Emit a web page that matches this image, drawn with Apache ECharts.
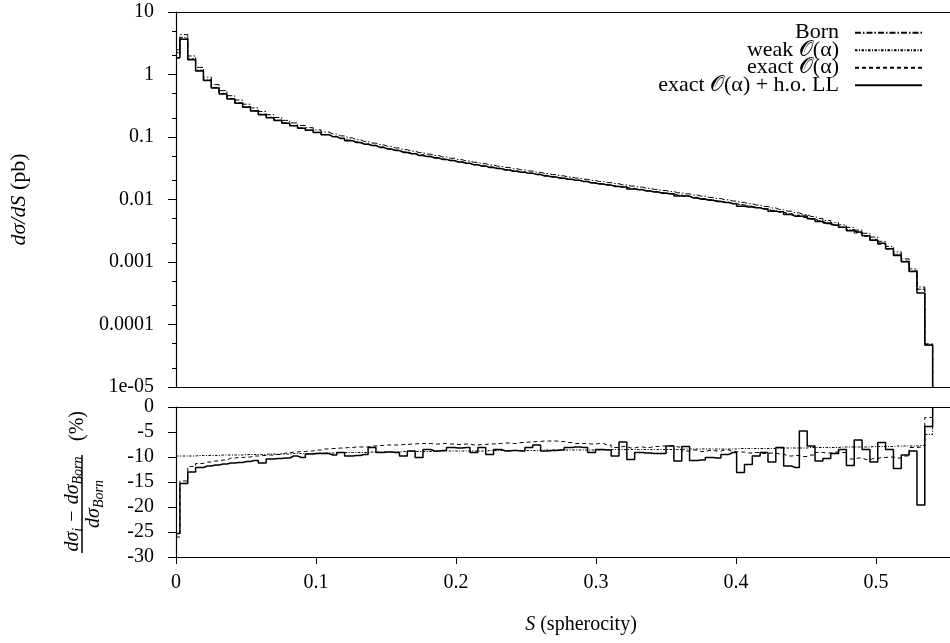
<!DOCTYPE html>
<html>
<head>
<meta charset="utf-8">
<script src="https://cdn.jsdelivr.net/npm/echarts@6/dist/echarts.min.js"></script>
<style>html,body{margin:0;padding:0;background:#fff}#c{width:950px;height:643px}</style>
</head>
<body>
<div id="c"></div>
<script>
// ---------------- data ----------------
const binWidth = 0.0056;          // width of a spherocity bin
const histEnd = 0.5404;           // upper edge of the last bin
const xTickValues = [0, 0.1, 0.2, 0.3, 0.4, 0.5];
const xTickLabels = ['0', '0.1', '0.2', '0.3', '0.4', '0.5'];
const yTopTickExponents = [-5, -4, -3, -2, -1, 0, 1];
const yTopTickLabels = ['1e-05', '0.0001', '0.001', '0.01', '0.1', '1', '10'];
const yTopMinorFactors = [2, 5];
const yBottomTickLabels = ['-30', '-25', '-20', '-15', '-10', '-5', '0'];
const seriesNames = ['Born', 'weak 𝒪(α)', 'exact 𝒪(α)', 'exact 𝒪(α) + h.o. LL'];

// Born dσ/dS (pb), one value per bin
const bornXsec = [
  2.48, 4.34, 1.98, 1.30, 0.908, 0.689, 0.552, 0.458, 0.390, 0.335,
  0.292, 0.256, 0.2275, 0.205, 0.1845, 0.168, 0.153, 0.141, 0.130, 0.120,
  0.112, 0.1042, 0.0970, 0.0906, 0.0849, 0.0798, 0.0750, 0.0706, 0.0667, 0.0628,
  0.0594, 0.0562, 0.0533, 0.0506, 0.0480, 0.0456, 0.0434, 0.0413, 0.0394, 0.0375,
  0.0358, 0.0341, 0.0326, 0.0311, 0.0298, 0.0285, 0.0273, 0.0261, 0.0250, 0.0239,
  0.0229, 0.0220, 0.0211, 0.0202, 0.0194, 0.0186, 0.0179, 0.0171, 0.0164, 0.0158,
  0.0151, 0.0145, 0.0139, 0.0134, 0.0128, 0.0123, 0.0118, 0.0113, 0.0108, 0.01035,
  0.00989, 0.00944, 0.00899, 0.00857, 0.00815, 0.00773, 0.00731, 0.00690, 0.00650, 0.00611,
  0.00573, 0.00535, 0.00498, 0.00461, 0.00427, 0.00392, 0.00358, 0.00324, 0.00288, 0.00251,
  0.00214, 0.00178, 0.00145, 0.00112, 0.000776, 0.000398, 0.000049
];
// relative deviations from Born (%)
const ratioWeak = [
  -9.8, -9.8, -9.8, -9.7, -9.7, -9.7, -9.6, -9.6, -9.6, -9.5,
  -9.5, -9.5, -9.4, -9.4, -9.4, -9.3, -9.3, -9.3, -9.2, -9.2,
  -9.2, -9.1, -9.1, -9.1, -9.1, -9.0, -9.0, -9.0, -9.0, -8.9,
  -8.9, -8.9, -8.9, -8.9, -8.8, -8.8, -8.8, -8.8, -8.8, -8.8,
  -8.7, -8.7, -8.7, -8.7, -8.7, -8.7, -8.7, -8.6, -8.6, -8.6,
  -8.6, -8.6, -8.6, -8.6, -8.6, -8.5, -8.5, -8.5, -8.5, -8.5,
  -8.5, -8.5, -8.5, -8.5, -8.5, -8.4, -8.4, -8.4, -8.4, -8.4,
  -8.4, -8.4, -8.3, -8.3, -8.3, -8.3, -8.3, -8.2, -8.2, -8.2,
  -8.2, -8.1, -8.1, -8.1, -8.1, -8.0, -8.0, -8.0, -8.0, -7.9,
  -7.9, -7.9, -7.8, -7.8, -7.8, -7.7, -5.5
];
const ratioExact = [
  -26.0, -14.8, -11.9, -11.3, -11.0, -10.8, -10.6, -10.2, -10.1, -10.0,
  -9.8, -9.7, -9.6, -9.5, -9.2, -9.0, -8.9, -8.8, -8.6, -8.4,
  -8.3, -8.2, -8.1, -8.0, -8.0, -7.8, -7.7, -7.6, -7.6, -7.5,
  -7.4, -7.3, -7.3, -7.4, -7.3, -7.4, -7.5, -7.4, -7.6, -7.5,
  -7.4, -7.3, -7.2, -7.3, -7.1, -7.0, -6.9, -6.8, -6.8, -6.9,
  -7.1, -7.3, -7.3, -7.4, -7.3, -7.6, -8.1, -7.9, -8.2, -8.0,
  -8.1, -7.9, -7.8, -7.7, -8.0, -8.8, -8.6, -8.9, -8.7, -8.8,
  -8.6, -8.9, -9.0, -9.2, -9.1, -9.3, -9.2, -9.4, -9.8, -9.7,
  -9.9, -9.6, -9.1, -9.2, -9.0, -9.1, -10.4, -10.2, -10.5, -10.3,
  -10.1, -10.0, -10.2, -9.8, -8.1, -8.0, -2.1
];
const ratioExactLL = [
  -25.3, -15.3, -13.0, -12.1, -11.8, -11.6, -11.4, -11.2, -11.1, -10.9,
  -10.7, -11.2, -10.4, -10.3, -10.2, -9.8, -10.1, -9.4, -9.3, -9.3,
  -9.6, -9.1, -9.8, -9.7, -9.5, -8.1, -9.1, -9.0, -9.1, -9.8,
  -8.8, -10.1, -8.5, -8.8, -8.7, -8.1, -8.2, -8.1, -9.1, -8.1,
  -9.5, -8.5, -8.8, -8.7, -8.8, -8.1, -7.6, -8.8, -8.7, -8.6,
  -8.1, -8.0, -8.1, -9.1, -8.5, -8.6, -9.8, -7.0, -10.5, -9.1,
  -9.2, -9.3, -9.3, -7.8, -10.8, -7.9, -10.7, -10.6, -10.1, -10.2,
  -9.5, -9.1, -13.1, -11.5, -9.8, -9.1, -11.0, -8.1, -11.8, -12.1,
  -4.8, -7.8, -10.8, -10.3, -9.3, -8.5, -11.7, -6.6, -8.5, -11.0,
  -7.1, -8.5, -12.3, -9.6, -8.8, -19.6, -3.9
];

// ---------------- build ----------------
const FONT = 'Liberation Serif';
const xMax = 0.5528;

function histData(values, floor) {
  const d = values.map((v, k) => [k * binWidth, v]);
  d.push([histEnd, values[values.length - 1]]);
  d.push([histEnd, floor]);
  return d;
}
const applyRatio = r => bornXsec.map((b, k) => b * (1 + r[k] / 100));
const topValues = [bornXsec, applyRatio(ratioWeak), applyRatio(ratioExact), applyRatio(ratioExactLL)];
const bottomValues = [null, ratioWeak, ratioExact, ratioExactLL];
const dashes = [[6, 2, 1.5, 2], [2.5, 1.5, 1, 1.5], [4, 3], null];
const widths = [1, 1, 1, 1.5];

const series = [];
topValues.forEach((vals, i) => {
  series.push({
    name: seriesNames[i], type: 'line', step: 'middle', symbol: 'none',
    xAxisIndex: 0, yAxisIndex: 0, data: histData(vals, 1e-6),
    lineStyle: { color: '#000', width: widths[i], type: dashes[i] || 'solid' },
    itemStyle: { color: '#000' }, z: 2 + i
  });
});
bottomValues.forEach((vals, i) => {
  if (!vals) return;
  series.push({
    name: seriesNames[i], type: 'line', step: 'middle', symbol: 'none',
    xAxisIndex: 2, yAxisIndex: 3, data: histData(vals, 0),
    lineStyle: { color: '#000', width: widths[i], type: dashes[i] || 'solid' },
    itemStyle: { color: '#000' }, z: 2 + i
  });
});

const axisLineStyle = { show: true, onZero: false, lineStyle: { color: '#000', width: 1.2 } };
const noTick = { show: false };
const labelText = { fontFamily: FONT, fontSize: 20, color: '#000' };

const legendCenters = [31.7, 49.3, 66.7, 84.3];
const legends = seriesNames.map((n, i) => ({
  data: [n], right: 27, top: legendCenters[i] - 10, align: 'right', orient: 'horizontal',
  itemWidth: 67, itemHeight: 12, padding: 0, selectedMode: false,
  itemStyle: { color: 'rgba(0,0,0,0)', borderWidth: 0, opacity: 0 },
  textStyle: { fontFamily: FONT, fontSize: 22, color: '#000', padding: [0, 11, 0, 0] }
}));

const minorTicks = [];
yTopTickExponents.slice(0, -1).forEach(e => yTopMinorFactors.forEach(f => minorTicks.push(e + Math.log10(f))));

const gridBase = { left: 176, right: 0, containLabel: false, outerBoundsMode: 'none' };
const option = {
  animation: false,
  backgroundColor: '#fff',
  grid: [
    Object.assign({ top: 12, height: 375 }, gridBase),
    Object.assign({ top: 407, height: 150 }, gridBase)
  ],
  legend: legends,
  xAxis: [
    { gridIndex: 0, type: 'value', min: 0, max: xMax, axisLine: axisLineStyle, axisTick: noTick, axisLabel: { show: false }, splitLine: { show: false } },
    { gridIndex: 0, type: 'value', position: 'top', min: 0, max: xMax, axisLine: axisLineStyle, axisTick: noTick, axisLabel: { show: false }, splitLine: { show: false } },
    { gridIndex: 1, type: 'value', position: 'bottom', min: 0, max: xMax, interval: 0.1, axisLine: axisLineStyle,
      axisTick: { show: true, length: 7, customValues: xTickValues, lineStyle: { color: '#000' } },
      axisLabel: Object.assign({ customValues: xTickValues, margin: 16,
        formatter: v => xTickLabels[Math.round(v * 10)] }, labelText),
      splitLine: { show: false } },
    { gridIndex: 1, type: 'value', position: 'top', min: 0, max: xMax, axisLine: axisLineStyle, axisTick: noTick, axisLabel: { show: false }, splitLine: { show: false } }
  ],
  yAxis: [
    { gridIndex: 0, type: 'log', logBase: 10, min: 1e-5, max: 10, show: false, position: 'left' },
    { gridIndex: 0, type: 'value', position: 'left', min: -5, max: 1, axisLine: axisLineStyle,
      axisTick: { show: true, length: 8, customValues: yTopTickExponents, lineStyle: { color: '#000' } },
      axisLabel: Object.assign({ customValues: yTopTickExponents, margin: 22,
        formatter: v => yTopTickLabels[Math.round(v) + 5] }, labelText),
      splitLine: { show: false },
      name: '{i|dσ/dS} (pb)', nameLocation: 'middle', nameRotate: 90, nameGap: 146,
      nameTextStyle: { fontFamily: FONT, fontSize: 22, color: '#000',
        rich: { i: { fontFamily: FONT, fontSize: 22, fontStyle: 'italic', color: '#000' } } } },
    { gridIndex: 0, type: 'value', position: 'left', offset: 0, min: -5, max: 1, axisLine: { show: false, onZero: false },
      axisTick: { show: true, length: 4, customValues: minorTicks, lineStyle: { color: '#000' } },
      axisLabel: { show: false }, splitLine: { show: false } },
    { gridIndex: 1, type: 'value', position: 'left', min: -30, max: 0, interval: 5, axisLine: axisLineStyle,
      axisTick: { show: true, length: 8, lineStyle: { color: '#000' } },
      axisLabel: Object.assign({ margin: 22, formatter: v => yBottomTickLabels[Math.round(v / 5) + 6] }, labelText),
      splitLine: { show: false } }
  ],
  graphic: [
    { type: 'text', x: 581, y: 625,
      style: { text: '{i|S} (spherocity)', fontFamily: FONT, fontSize: 20, fill: '#000', align: 'center', verticalAlign: 'middle',
        rich: { i: { fontFamily: FONT, fontSize: 20, fontStyle: 'italic' } } } },
    { type: 'group', x: 82, y: 482, rotation: Math.PI / 2, children: [
      { type: 'text', x: -22, y: -9,
        style: { text: '{m|dσ}{s|i}{m| − dσ}{s|Born}', align: 'center', verticalAlign: 'middle', fill: '#000',
          rich: { m: { fontFamily: FONT, fontSize: 20, fontStyle: 'italic', lineHeight: 24 },
                  s: { fontFamily: FONT, fontSize: 14, fontStyle: 'italic', verticalAlign: 'bottom' } } } },
      { type: 'line', shape: { x1: -71, y1: 0, x2: 27, y2: 0 }, style: { stroke: '#000', lineWidth: 1.5 } },
      { type: 'text', x: -22, y: 12,
        style: { text: '{m|dσ}{s|Born}', align: 'center', verticalAlign: 'middle', fill: '#000',
          rich: { m: { fontFamily: FONT, fontSize: 20, fontStyle: 'italic', lineHeight: 24 },
                  s: { fontFamily: FONT, fontSize: 14, fontStyle: 'italic', verticalAlign: 'bottom' } } } },
      { type: 'text', x: 56, y: -4,
        style: { text: '(%)', fontFamily: FONT, fontSize: 20, fill: '#000', align: 'center', verticalAlign: 'middle' } }
    ] }
  ],
  series: series
};

const chart = echarts.init(document.getElementById('c'), null, { renderer: 'canvas' });
chart.setOption(option);
</script>
</body>
</html>
